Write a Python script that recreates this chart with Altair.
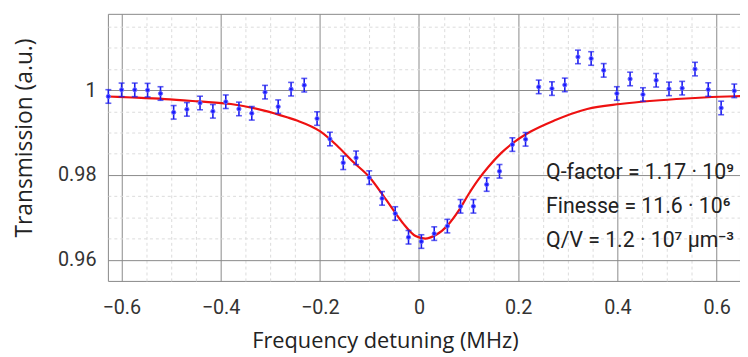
import altair as alt
import pandas as pd

# measured points
det = [-0.6261, -0.5994, -0.5729, -0.5470, -0.5210, -0.4945, -0.4678, -0.4413, -0.4154, -0.3894,
       -0.3629, -0.3370, -0.3103, -0.2838, -0.2578, -0.2313, -0.2054, -0.1795, -0.1527, -0.1268,
       -0.1003, -0.0744, -0.0479, -0.0211, 0.0048, 0.0307, 0.0572, 0.0837, 0.1097, 0.1364,
       0.1623, 0.1882, 0.2148, 0.2413, 0.2680, 0.2939, 0.3204, 0.3470, 0.3723, 0.3988,
       0.4255, 0.4514, 0.4780, 0.5039, 0.5304, 0.5563, 0.5830, 0.6090, 0.6355]
trans = [0.99851, 1.00007, 1.00007, 1.00000, 0.99921, 0.99477, 0.99547, 0.99697, 0.99501, 0.99727,
         0.99557, 0.99454, 0.99953, 0.99610, 1.00023, 1.00117, 0.99330, 0.98847, 0.98287, 0.98404,
         0.97937, 0.97447, 0.97090, 0.96530, 0.96429, 0.96616, 0.96793, 0.97260, 0.97260, 0.97774,
         0.98086, 0.98716, 0.98840, 1.00077, 1.00037, 1.00124, 1.00784, 1.00747, 1.00467, 0.99921,
         1.00264, 0.99897, 1.00233, 1.00030, 1.00047, 1.00497, 1.00014, 0.99580, 0.99984]
err = [0.0016] * len(det)

# fitted curve
fit_x = [-0.6267, -0.578, -0.512, -0.445, -0.379, -0.312, -0.266, -0.246, -0.199, -0.166,
         -0.133, -0.0997, -0.0664, -0.0331, -0.007, 0.0130, 0.0329, 0.0594, 0.0793, 0.0993,
         0.1192, 0.1392, 0.1659, 0.1924, 0.2261, 0.2726, 0.3390, 0.4056, 0.472, 0.5384,
         0.605, 0.6475]
fit_y = [0.9985, 0.99827, 0.9979, 0.99734, 0.99673, 0.99517, 0.99361, 0.99284, 0.99027, 0.9870,
         0.98310, 0.97946, 0.97417, 0.96873, 0.96560, 0.96499, 0.96576, 0.96833, 0.97144, 0.97533,
         0.97883, 0.98180, 0.98520, 0.98780, 0.99030, 0.99284, 0.99557, 0.99673, 0.99750, 0.99804,
         0.99844, 0.99860]

x_ticks = [-0.6, -0.4, -0.2, 0, 0.2, 0.4, 0.6]
y_ticks = [0.96, 0.98, 1.0]
x_minor = [-0.55, -0.5, -0.45, -0.35, -0.3, -0.25, -0.15, -0.1, -0.05,
           0.05, 0.1, 0.15, 0.25, 0.3, 0.35, 0.45, 0.5, 0.55]
y_minor = [0.965, 0.97, 0.975, 0.985, 0.99, 0.995, 1.005, 1.01, 1.015]

notes = ["Q-factor = 1.17 · 10⁹", "Finesse  = 11.6 · 10⁶", "Q/V = 1.2 · 10⁷ μm⁻³"]
note_x = [0.256, 0.256, 0.256]
note_y = [0.98047, 0.97253, 0.96436]

FONT = "Roboto, sans-serif"
TFONT = "Open Sans, Roboto, sans-serif"

pts = pd.DataFrame({"x": det, "y": trans, "e": err})
pts["lo"] = pts["y"] - pts["e"]
pts["hi"] = pts["y"] + pts["e"]
fit = pd.DataFrame({"x": fit_x, "y": fit_y})
nt = pd.DataFrame({"t": notes, "x": note_x, "y": note_y})

xs = alt.Scale(domain=[-0.627, 0.647], nice=False, zero=False)
ys = alt.Scale(domain=[0.955, 1.018], nice=False, zero=False)

minor_x_axis = alt.Axis(orient="top", values=x_minor, grid=True, gridColor="#dcdcdc",
                        gridDash=[3, 3], gridWidth=1, labels=False, ticks=False,
                        domain=False, title=None)
minor_y_axis = alt.Axis(orient="right", values=y_minor, grid=True, gridColor="#dcdcdc",
                        gridDash=[3, 3], gridWidth=1, labels=False, ticks=False,
                        domain=False, title=None)

major_x_axis = alt.Axis(orient="bottom", values=x_ticks, grid=True, gridColor="#8a8a8a",
                        gridWidth=1, ticks=False, domain=False, labelPadding=17,
                        labelFontSize=20, labelColor="#333", labelFont=FONT,
                        labelExpr="datum.value == 0 ? '0' : format(datum.value, '.1f')",
                        title="Frequency detuning (MHz)", titleFontSize=22,
                        titleFont=TFONT, titleFontWeight="normal", titleColor="#222",
                        titlePadding=13, titleX=280, titleAlign="center")
major_y_axis = alt.Axis(orient="left", values=y_ticks, grid=True, gridColor="#8a8a8a",
                        gridWidth=1, ticks=False, domain=False, labelPadding=12,
                        labelFontSize=20, labelColor="#333", labelFont=FONT,
                        labelExpr="datum.value == 1 ? '1' : format(datum.value, '.2f')",
                        title="Transmission (a.u.)", titleFontSize=23, titleFont=TFONT,
                        titleFontWeight="normal", titleColor="#222",
                        titleX=-84, titleY=125, titleBaseline="middle", titleAlign="center")

curve = alt.Chart(fit).mark_line(color="#ee1111", strokeWidth=2.2, interpolate="monotone",
                                 clip=True).encode(
    x=alt.X("x:Q", scale=xs, axis=minor_x_axis),
    y=alt.Y("y:Q", scale=ys, axis=minor_y_axis),
)

bars = alt.Chart(pts).mark_errorbar(ticks={"size": 6}, color="#1a1aee", thickness=1.6).encode(
    x=alt.X("x:Q", scale=xs, axis=major_x_axis),
    y=alt.Y("lo:Q", scale=ys, axis=major_y_axis),
    y2="hi:Q",
)

dots = alt.Chart(pts).mark_point(filled=True, shape="circle", size=18, color="#1a1aff",
                                 stroke="#6b6bff", strokeWidth=1, opacity=1).encode(
    x=alt.X("x:Q", scale=xs),
    y=alt.Y("y:Q", scale=ys),
)

text = alt.Chart(nt).mark_text(align="left", baseline="middle", fontSize=21.5, font=FONT,
                               color="#222").encode(
    x=alt.X("x:Q", scale=xs),
    y=alt.Y("y:Q", scale=ys),
    text="t:N",
)

chart = alt.layer(curve, alt.layer(bars, dots, text)).resolve_axis(
    x="independent", y="independent"
).properties(
    width=639, height=270,
    autosize=alt.AutoSizeParams(type="none"),
    padding={"left": 101, "top": 4, "right": 0, "bottom": 75},
).configure_view(stroke="#888888", strokeWidth=1)

chart.save("out.html", embed_options={"renderer": "svg", "actions": False})
